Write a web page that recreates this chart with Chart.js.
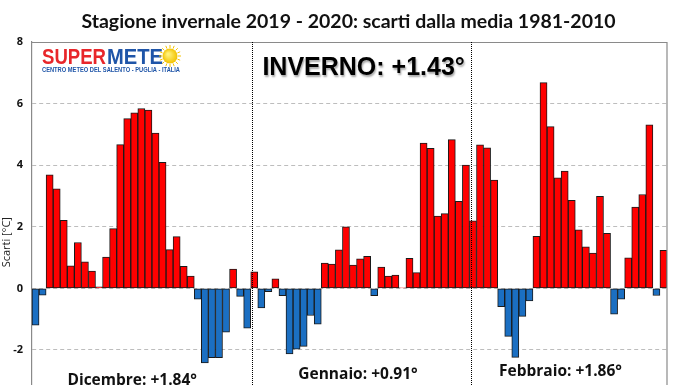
<!DOCTYPE html>
<html>
<head>
<meta charset="utf-8">
<script src="https://cdn.jsdelivr.net/npm/chart.js@4"></script>
<style>
  html, body { margin: 0; padding: 0; background: #fff; overflow: hidden; }
  canvas { display: block; }
</style>
</head>
<body>
<canvas id="chart" width="696" height="458"></canvas>
<script>
// scarti giornalieri (°C) rispetto alla media 1981-2010
const decValues = [-1.19, -0.22, 3.69, 3.23, 2.21, 0.73, 1.49, 0.86, 0.56, 0.05, 1.02, 1.94, 4.67, 5.51, 5.70, 5.84,
  5.79, 5.04, 4.09, 1.26, 1.68, 0.72, 0.40, -0.35, -2.42, -2.25, -2.25, -1.42, 0.63, -0.26, -1.29];
const janValues = [0.54, -0.63, -0.11, 0.31, -0.24, -2.13, -1.97, -1.88, -0.88, -1.16, 0.82, 0.79, 1.25, 2.00, 0.76,
  0.96, 1.04, -0.24, 0.69, 0.40, 0.43, 0.02, 0.98, 0.51, 4.72, 4.55, 2.35, 2.43, 4.83, 2.83, 4.00];
const febValues = [2.19, 4.66, 4.56, 3.52, -0.59, -1.56, -2.24, -0.91, -0.41, 1.69, 6.68, 5.25, 3.59, 3.81, 2.86,
  1.90, 1.35, 1.15, 2.99, 1.79, -0.84, -0.35, 0.99, 2.64, 3.05, 5.31, -0.23, 1.24];

const monthNames = ["Dicembre", "Gennaio", "Febbraio"];
const monthShort = ["dic", "gen", "feb"];
const monthAnomaly = ["+1.84°", "+0.91°", "+1.86°"];
const seasonAnomaly = "+1.43°";
const yTicks = [-2, 0, 2, 4, 6, 8];
const titleText = "Stagione invernale 2019 - 2020: scarti dalla media 1981-2010";

const monthSeries = [decValues, janValues, febValues];
const labels = [];
monthSeries.forEach((arr, m) => arr.forEach((v, d) => labels.push((d + 1) + " " + monthShort[m])));
const values = [].concat(decValues, janValues, febValues);
const monthStart = [0, decValues.length, decValues.length + janValues.length];

const RED = "#ff0000";
const BLUE = "#1b6fc2";

// draw text squeezed to a given width (logo lettering is condensed)
function fitText(ctx, text, x, y, w) {
  const tw = ctx.measureText(text).width;
  ctx.save();
  ctx.translate(x, y);
  ctx.scale(w / tw, 1);
  ctx.fillText(text, 0, 0);
  ctx.restore();
}

const overlay = {
  id: "overlay",
  afterDraw(chart) {
    const { ctx, chartArea: a, scales: { x, y } } = chart;
    ctx.save();
    // title
    ctx.fillStyle = "#111";
    ctx.textAlign = "center";
    ctx.textBaseline = "alphabetic";
    ctx.font = "bold 19.5px Lato";
    ctx.fillText(titleText, 348.5, 28);

    // frame
    ctx.strokeStyle = "#8a8a8a";
    ctx.lineWidth = 1.2;
    ctx.beginPath();
    ctx.moveTo(a.left, a.top + 0.5);
    ctx.lineTo(a.right, a.top + 0.5);
    ctx.lineTo(a.right, a.bottom);
    ctx.stroke();

    // month dividers (dotted)
    ctx.strokeStyle = "#000";
    ctx.lineWidth = 1;
    ctx.setLineDash([1, 1]);
    [monthStart[1], monthStart[2]].forEach(i => {
      const px = Math.round(x.getPixelForValue(i - 0.25)) + 0.5;
      ctx.beginPath();
      ctx.moveTo(px, a.top);
      ctx.lineTo(px, a.bottom);
      ctx.stroke();
    });
    ctx.setLineDash([]);

    // month texts
    ctx.fillStyle = "#111";
    ctx.font = "bold 15.5px 'Open Sans'";
    const textPos = [[13.7, -3.13], [45.7, -2.94], [74.4, -2.84]];
    monthNames.forEach((n, m) => {
      ctx.fillText(n + ": " + monthAnomaly[m], x.getPixelForValue(textPos[m][0]), y.getPixelForValue(textPos[m][1]));
    });

    // season text with shadow
    ctx.font = "bold 25px 'Liberation Sans'";
    ctx.fillStyle = "#000";
    ctx.shadowColor = "rgba(0,0,0,0.35)";
    ctx.shadowBlur = 2;
    ctx.shadowOffsetX = 1;
    ctx.shadowOffsetY = 1.5;
    ctx.fillText("INVERNO: " + seasonAnomaly, x.getPixelForValue(46.5), y.getPixelForValue(6.92));
    ctx.shadowColor = "transparent";

    // logo
    const lx = a.left + 10, ly = a.top + 22;
    ctx.textAlign = "left";
    ctx.font = "bold 22px 'Liberation Sans'";
    ctx.fillStyle = "#e8262a";
    fitText(ctx, "SUPER", lx, ly, 64);
    ctx.fillStyle = "#1f55a8";
    fitText(ctx, "METE", lx + 65, ly, 56);
    const cx = lx + 128, cy = ly - 8;
    ctx.strokeStyle = "#f5c400";
    ctx.lineWidth = 1;
    for (let k = 0; k < 16; k++) {
      const ang = k * Math.PI / 8;
      ctx.beginPath();
      ctx.moveTo(cx + Math.cos(ang) * 8, cy + Math.sin(ang) * 8);
      ctx.lineTo(cx + Math.cos(ang) * 11, cy + Math.sin(ang) * 11);
      ctx.stroke();
    }
    const g = ctx.createRadialGradient(cx - 2, cy - 2, 1, cx, cy, 7.5);
    g.addColorStop(0, "#fff27a");
    g.addColorStop(1, "#f2c200");
    ctx.fillStyle = g;
    ctx.beginPath();
    ctx.arc(cx, cy, 7.5, 0, Math.PI * 2);
    ctx.fill();
    ctx.fillStyle = "#1f55a8";
    ctx.font = "bold 7px 'Liberation Sans'";
    fitText(ctx, "CENTRO METEO DEL SALENTO - PUGLIA - ITALIA", lx, ly + 8, 138);
    ctx.restore();
  }
};

new Chart(document.getElementById("chart"), {
  type: "bar",
  data: {
    labels: labels,
    datasets: [{
      data: values,
      backgroundColor: c => (c.raw >= 0 ? RED : BLUE),
      borderColor: "#1a1a1a",
      borderWidth: 1,
      borderSkipped: false,
      barPercentage: 1,
      categoryPercentage: 1
    }]
  },
  options: {
    responsive: false,
    animation: false,
    layout: { padding: { top: 42, right: 29, bottom: 0, left: 0 } },
    plugins: {
      legend: { display: false },
      tooltip: { enabled: false },
      title: { display: false }
    },
    scales: {
      x: {
        display: false,
        offset: true
      },
      y: {
        min: -5,
        max: 8,
        afterBuildTicks: s => { s.ticks = yTicks.map(v => ({ value: v })); },
        afterFit: s => { s.width = 32; },
        grid: { color: "#bdbdbd", drawTicks: false },
        border: { display: true, color: "#8a8a8a", width: 1.2, dash: [4, 3] },
        ticks: {
          color: "#111",
          padding: 9,
          font: { family: "'Open Sans'", size: 11, weight: "bold" }
        },
        title: {
          display: true,
          text: "Scarti [°C]",
          color: "#222",
          font: { family: "'Open Sans'", size: 11 },
          padding: { top: 0, bottom: 0 }
        }
      }
    }
  },
  plugins: [overlay]
});
</script>
</body>
</html>
